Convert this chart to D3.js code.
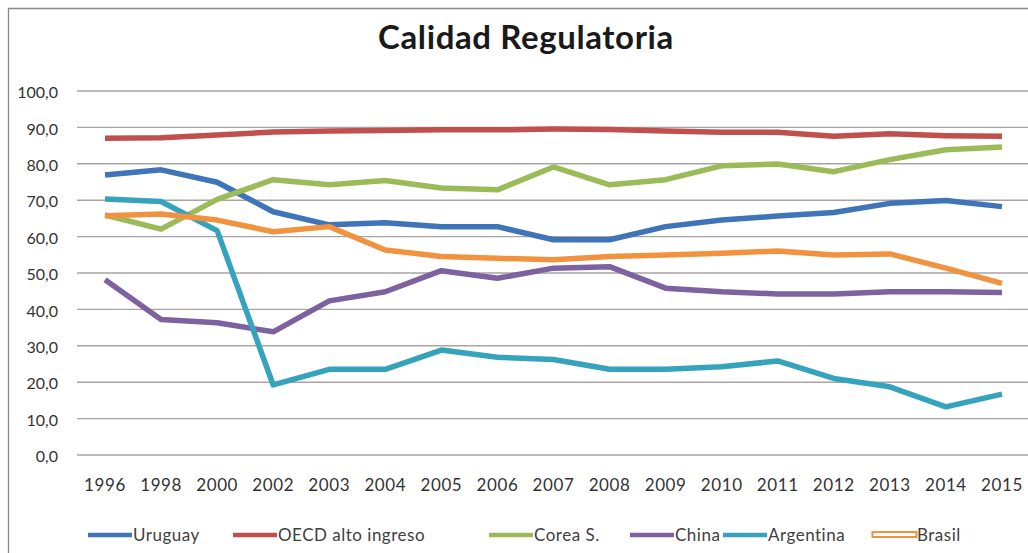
<!DOCTYPE html>
<html>
<head>
<meta charset="utf-8">
<script src="https://cdn.jsdelivr.net/npm/d3@7"></script>
<style>
  html, body { margin: 0; padding: 0; background: #fff; }
  svg { display: block; }
</style>
</head>
<body>
<svg id="chart" width="1028" height="553"></svg>
<script>
// Years on the category axis
const years = ["1996","1998","2000","2002","2003","2004","2005","2006","2007","2008","2009","2010","2011","2012","2013","2014","2015"];

// Regulatory quality percentile rank per country / group
const uruguay   = [76.8, 78.2, 74.8, 66.7, 63.1, 63.7, 62.6, 62.6, 59.0, 59.0, 62.6, 64.4, 65.5, 66.5, 69.0, 69.8, 68.1];
const oecd      = [86.9, 87.0, 87.8, 88.6, 88.9, 89.0, 89.2, 89.2, 89.4, 89.3, 88.9, 88.5, 88.5, 87.4, 88.1, 87.6, 87.4];
const corea     = [65.8, 61.9, 70.1, 75.5, 74.1, 75.3, 73.2, 72.7, 79.0, 74.1, 75.5, 79.3, 79.8, 77.7, 81.0, 83.7, 84.5];
const china     = [48.0, 37.1, 36.2, 33.7, 42.2, 44.7, 50.5, 48.4, 51.2, 51.6, 45.7, 44.7, 44.1, 44.1, 44.7, 44.7, 44.5];
const argentina = [70.2, 69.5, 61.5, 19.1, 23.4, 23.4, 28.7, 26.7, 26.1, 23.4, 23.4, 24.1, 25.7, 20.9, 18.6, 13.1, 16.6];
const brasil    = [65.6, 66.1, 64.4, 61.2, 62.6, 56.2, 54.4, 53.9, 53.5, 54.4, 54.8, 55.3, 55.9, 54.8, 55.1, 51.2, 47.0];

const seriesNames  = ["Uruguay", "OECD alto ingreso", "Corea S.", "China", "Argentina", "Brasil"];
const seriesValues = [uruguay, oecd, corea, china, argentina, brasil];
const seriesColors = ["#3f74b8", "#c0504d", "#9bbb59", "#7e62a0", "#36a3bd", "#f0923e"];

const yTicks = [0, 10, 20, 30, 40, 50, 60, 70, 80, 90, 100];

const svg = d3.select("#chart");
const fontFamily = "Lato, 'Open Sans', sans-serif";

const plot = { left: 77, right: 1030, top: 90.5, bottom: 454.5 };

const x = d3.scaleBand().domain(years).range([plot.left, plot.right]);
const y = d3.scaleLinear().domain([0, 100]).range([plot.bottom, plot.top]);

// Outer chart frame (top and left edges)
svg.append("path")
  .attr("d", "M8.5,553 L8.5,8.5 L1028,8.5")
  .attr("fill", "none")
  .attr("stroke", "#8a8a8a").attr("stroke-width", 1.3);

// Title
svg.append("text")
  .attr("x", 526).attr("y", 49)
  .attr("text-anchor", "middle")
  .attr("font-family", fontFamily)
  .attr("font-weight", "bold")
  .attr("font-size", 33)
  .attr("letter-spacing", 0.6)
  .attr("fill", "#1a1a1a")
  .text("Calidad Regulatoria");

// Horizontal gridlines
const yAxis = d3.axisLeft(y)
  .tickValues(yTicks)
  .tickSize(-(1028 - plot.left))
  .tickPadding(19)
  .tickFormat(d => d3.format(".1f")(d).replace(".", ","));

const gy = svg.append("g")
  .attr("transform", `translate(${plot.left},0)`)
  .call(yAxis);
gy.select(".domain").remove();
gy.selectAll(".tick line")
  .attr("stroke", "#a9a3a3")
  .attr("stroke-width", 1.4);
gy.selectAll(".tick text")
  .attr("font-family", fontFamily)
  .attr("font-size", 16)
  .attr("fill", "#333")
  .attr("dy", "0.45em");

// Category axis labels
const xAxis = d3.axisBottom(x).tickSize(0).tickPadding(24);
const gx = svg.append("g")
  .attr("transform", `translate(0,${plot.bottom})`)
  .call(xAxis);
gx.select(".domain").remove();
gx.selectAll(".tick text")
  .attr("font-family", fontFamily)
  .attr("font-size", 17)
  .attr("letter-spacing", 0.6)
  .attr("fill", "#333");

// Series lines
const line = d3.line()
  .x((d, i) => x(years[i]) + x.bandwidth() / 2)
  .y(d => y(d));

seriesValues.forEach((vals, k) => {
  svg.append("path")
    .datum(vals)
    .attr("d", line)
    .attr("fill", "none")
    .attr("stroke", seriesColors[k])
    .attr("stroke-width", 5.5)
    .attr("stroke-linejoin", "round")
    .attr("stroke-linecap", "butt");
});

// Legend
const legendX = [88, 233, 489, 630, 723, 872];
const legend = svg.append("g").attr("transform", "translate(0,535)");
seriesNames.forEach((name, k) => {
  const g = legend.append("g").attr("transform", `translate(${legendX[k]},0)`);
  if (name === "Brasil") {
    g.append("rect")
      .attr("x", 0.5).attr("y", -3).attr("width", 44).attr("height", 5)
      .attr("fill", "#fff").attr("stroke", seriesColors[k]).attr("stroke-width", 2);
  } else {
    g.append("line")
      .attr("x1", 0).attr("x2", 44).attr("y1", 0).attr("y2", 0)
      .attr("stroke", seriesColors[k]).attr("stroke-width", 4.5);
  }
  g.append("text")
    .attr("x", 45).attr("y", 6)
    .attr("font-family", fontFamily)
    .attr("font-size", 17)
    .attr("letter-spacing", 0.5)
    .attr("fill", "#404040")
    .text(name);
});
</script>
</body>
</html>
